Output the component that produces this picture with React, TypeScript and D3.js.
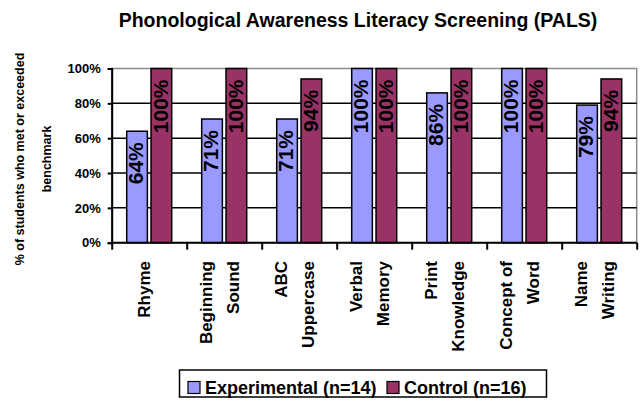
import React, { useEffect, useRef } from "react";
import * as d3 from "d3";

const categories = [
  ["Rhyme"],
  ["Beginning", "Sound"],
  ["ABC", "Uppercase"],
  ["Verbal", "Memory"],
  ["Print", "Knowledge"],
  ["Concept of", "Word"],
  ["Name", "Writing"],
];
const experimental = [64, 71, 71, 100, 86, 100, 79];
const control = [100, 100, 94, 100, 100, 100, 94];
const seriesNames = ["Experimental (n=14)", "Control (n=16)"];
const seriesColors = ["#9999FF", "#993366"];
const yTicks = [0, 20, 40, 60, 80, 100];

const font = "'Liberation Sans', Arial, sans-serif";

export default function App() {
  const ref = useRef<SVGSVGElement>(null);

  useEffect(() => {
    const svg = d3.select(ref.current);
    svg.selectAll("*").remove();

    const left = 111.7, right = 636.7, top = 68.5, bottom = 242.7;
    const keys = categories.map((c) => c.join(" "));

    const x = d3.scaleBand().domain(keys).range([left, right]).padding(0);
    const inner = d3.scaleBand().domain(["0", "1"]).range([15, 60]).paddingInner(0.15);
    const y = d3.scaleLinear().domain([0, 100]).range([bottom, top]);

    svg.append("rect").attr("width", 641).attr("height", 407).attr("fill", "#fff");

    // title
    svg.append("text")
      .attr("x", 358).attr("y", 27)
      .attr("text-anchor", "middle")
      .style("font-family", font).style("font-size", "19.5px").style("font-weight", "bold")
      .text("Phonological Awareness Literacy Screening (PALS)");

    // plot frame
    svg.append("rect")
      .attr("x", left).attr("y", top)
      .attr("width", right - left).attr("height", bottom - top)
      .attr("fill", "#fff").attr("stroke", "#8c8c8c").attr("stroke-width", 1.5);

    // gridlines
    svg.append("g").selectAll("line")
      .data(yTicks.slice(1, -1))
      .join("line")
      .attr("x1", left).attr("x2", right)
      .attr("y1", (d) => y(d)).attr("y2", (d) => y(d))
      .attr("stroke", "#000").attr("stroke-width", 1.5);

    // bars
    const series = [experimental, control];
    series.forEach((vals, s) => {
      const g = svg.append("g");
      g.selectAll("rect")
        .data(vals)
        .join("rect")
        .attr("x", (d, i) => x(keys[i])! + inner(String(s))!)
        .attr("y", (d) => y(d))
        .attr("width", inner.bandwidth())
        .attr("height", (d) => bottom - y(d))
        .attr("fill", seriesColors[s])
        .attr("stroke", "#000").attr("stroke-width", 1.5);

      g.selectAll("text")
        .data(vals)
        .join("text")
        .attr("transform", (d, i) => {
          const cx = x(keys[i])! + inner(String(s))! + inner.bandwidth() / 2 - 1;
          return `translate(${cx},${y(d) + 11}) rotate(-90)`;
        })
        .attr("dy", "0.35em")
        .attr("text-anchor", "end")
        .style("font-family", "'Liberation Sans Narrow', 'Liberation Sans', sans-serif")
        .style("font-size", "21px").style("font-weight", "bold")
        .text((d) => d + "%");
    });

    // axes
    const yAxis = svg.append("g")
      .attr("transform", `translate(${left},0)`)
      .call(d3.axisLeft(y).tickValues(yTicks).tickSize(4).tickFormat((d) => d + "%"));
    yAxis.select(".domain").attr("stroke", "#000").attr("stroke-width", 2);
    yAxis.selectAll(".tick line").attr("stroke-width", 2);
    yAxis.selectAll(".tick text")
      .attr("x", -11)
      .style("font-family", font).style("font-size", "13px").style("font-weight", "bold");

    const xAxis = svg.append("g")
      .attr("transform", `translate(0,${bottom})`)
      .call(d3.axisBottom(d3.scaleLinear().domain([0, keys.length]).range([left, right]))
        .ticks(keys.length).tickSize(7).tickFormat(() => ""));
    xAxis.select(".domain").attr("stroke", "#000").attr("stroke-width", 2).attr("d", `M${left},0H${right}`);
    xAxis.selectAll(".tick line").attr("stroke-width", 2);

    // category labels
    const catG = svg.append("g");
    categories.forEach((lines, i) => {
      const cx = x(keys[i])! + x.bandwidth() / 2;
      lines.forEach((line, j) => {
        const bx = cx + 1 + (j - (lines.length - 1) / 2) * 27;
        catG.append("text")
          .attr("transform", `translate(${bx},261) rotate(-90)`)
          .attr("text-anchor", "end")
          .style("font-family", font).style("font-size", "17px").style("font-weight", "bold")
          .text(line);
      });
    });

    // y axis title
    const yTitle = ["% of students who met or exceeded", "benchmark"];
    yTitle.forEach((line, j) => {
      svg.append("text")
        .attr("transform", `translate(${24 + j * 27},159) rotate(-90)`)
        .attr("text-anchor", "middle")
        .style("font-family", font).style("font-size", "12.5px").style("font-weight", "bold")
        .text(line);
    });

    // legend
    const lg = svg.append("g");
    lg.append("rect")
      .attr("x", 179.5).attr("y", 370).attr("width", 367).attr("height", 27)
      .attr("fill", "#fff").attr("stroke", "#000").attr("stroke-width", 1.5);
    const legendX = [188, 387];
    seriesNames.forEach((name, s) => {
      lg.append("rect")
        .attr("x", legendX[s]).attr("y", 381.5).attr("width", 12).attr("height", 12)
        .attr("fill", seriesColors[s]).attr("stroke", "#000").attr("stroke-width", 1.2);
      lg.append("text")
        .attr("x", legendX[s] + 17).attr("y", 393.5)
        .style("font-family", font).style("font-size", "18px").style("font-weight", "bold")
        .text(name);
    });
  }, []);

  return (
    <svg ref={ref} width={641} height={407} style={{ position: "absolute", left: 0, top: 0 }} />
  );
}
